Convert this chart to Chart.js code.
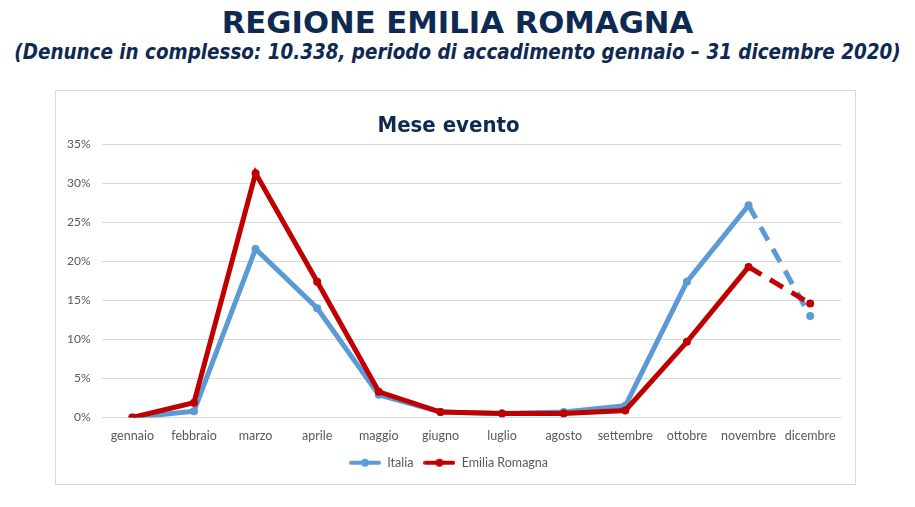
<!DOCTYPE html>
<html>
<head>
<meta charset="utf-8">
<script src="https://cdn.jsdelivr.net/npm/chart.js@4"></script>
<style>
  body { margin: 0; background: #fff; width: 915px; height: 507px; overflow: hidden; }
  h1 { position: absolute; top: 5px; left: 0; width: 915px; margin: 0; text-align: center;
       font: bold 30.7px "DejaVu Sans", sans-serif; color: #0f2a52; }
  h2 { position: absolute; top: 40px; left: 0; width: 915px; margin: 0; text-align: center;
       font: italic bold 20.4px "DejaVu Sans Condensed", "DejaVu Sans", sans-serif; color: #0f2a52; }
  #box { position: absolute; left: 55px; top: 90px; width: 799px; height: 393px;
         border: 1px solid #d9d9d9; background: #fff; }
</style>
</head>
<body>
<h1>REGIONE EMILIA ROMAGNA</h1>
<h2>(Denunce in complesso: 10.338, periodo di accadimento gennaio – 31 dicembre 2020)</h2>
<div id="box"><canvas id="myChart" width="799" height="393"></canvas></div>
<script>
// Mesi e percentuali
const mesi = ['gennaio', 'febbraio', 'marzo', 'aprile', 'maggio', 'giugno',
              'luglio', 'agosto', 'settembre', 'ottobre', 'novembre', 'dicembre'];
const italia = [0, 0.8, 21.6, 14.0, 2.9, 0.7, 0.5, 0.7, 1.5, 17.4, 27.2, 13.0];
const emilia = [0, 1.9, 31.3, 17.4, 3.3, 0.7, 0.5, 0.5, 0.9, 9.7, 19.3, 14.6];

const colori = ['#5b9bd5', '#c00000'];

// ultimo tratto (novembre -> dicembre) tratteggiato
const dashLast = ctx => ctx.p1DataIndex === mesi.length - 1 ? [15, 10] : undefined;

// icona legenda: linea con pallino, come in Excel
function iconaLegenda(colore) {
    const c = document.createElement('canvas');
    c.width = 32; c.height = 10;
    const g = c.getContext('2d');
    g.strokeStyle = colore;
    g.fillStyle = colore;
    g.lineWidth = 4;
    g.lineCap = 'round';
    g.beginPath(); g.moveTo(2, 5); g.lineTo(30, 5); g.stroke();
    g.beginPath(); g.arc(16, 5, 4, 0, Math.PI * 2); g.fill();
    return c;
}

const ctx = document.getElementById('myChart').getContext('2d');
const myChart = new Chart(ctx, {
    type: 'line',
    data: {
        labels: mesi,
        datasets: [{
            label: 'Italia',
            data: italia,
            order: 1,
            borderColor: colori[0],
            backgroundColor: colori[0],
            borderWidth: 5,
            pointRadius: 4,
            pointBorderWidth: 0,
            segment: { borderDash: dashLast }
        }, {
            label: 'Emilia Romagna',
            data: emilia,
            order: 0,
            borderColor: colori[1],
            backgroundColor: colori[1],
            borderWidth: 5,
            pointRadius: 4,
            pointBorderWidth: 0,
            segment: { borderDash: dashLast }
        }]
    },
    options: {
        responsive: false,
        animation: false,
        layout: { padding: { left: 0, right: 14, bottom: 5 } },
        plugins: {
            title: {
                display: true,
                text: 'Mese evento',
                color: '#0f2a52',
                font: { family: '"DejaVu Sans Condensed", sans-serif', size: 22, weight: 'bold' },
                padding: { top: 22, bottom: 5 }
            },
            legend: {
                position: 'bottom',
                labels: {
                    usePointStyle: true,
                    pointStyleWidth: 32,
                    padding: 10,
                    color: '#595959',
                    font: { family: 'Lato', size: 12.5 },
                    generateLabels: chart => chart.data.datasets.map((ds, i) => ({
                        text: ds.label,
                        datasetIndex: i,
                        pointStyle: iconaLegenda(colori[i]),
                        fillStyle: colori[i],
                        strokeStyle: colori[i],
                        lineWidth: 0,
                        fontColor: '#595959',
                        hidden: false
                    }))
                }
            }
        },
        scales: {
            x: {
                offset: true,
                grid: { display: false },
                border: { display: false },
                ticks: { color: '#595959', font: { family: 'Lato', size: 12.5 }, maxRotation: 0 }
            },
            y: {
                min: 0,
                max: 35,
                grid: { color: '#d9d9d9', drawTicks: false },
                border: { display: false },
                ticks: {
                    stepSize: 5,
                    padding: 11,
                    color: '#595959',
                    font: { family: 'Lato', size: 12 },
                    callback: v => v + '%'
                }
            }
        }
    }
});
</script>
</body>
</html>
